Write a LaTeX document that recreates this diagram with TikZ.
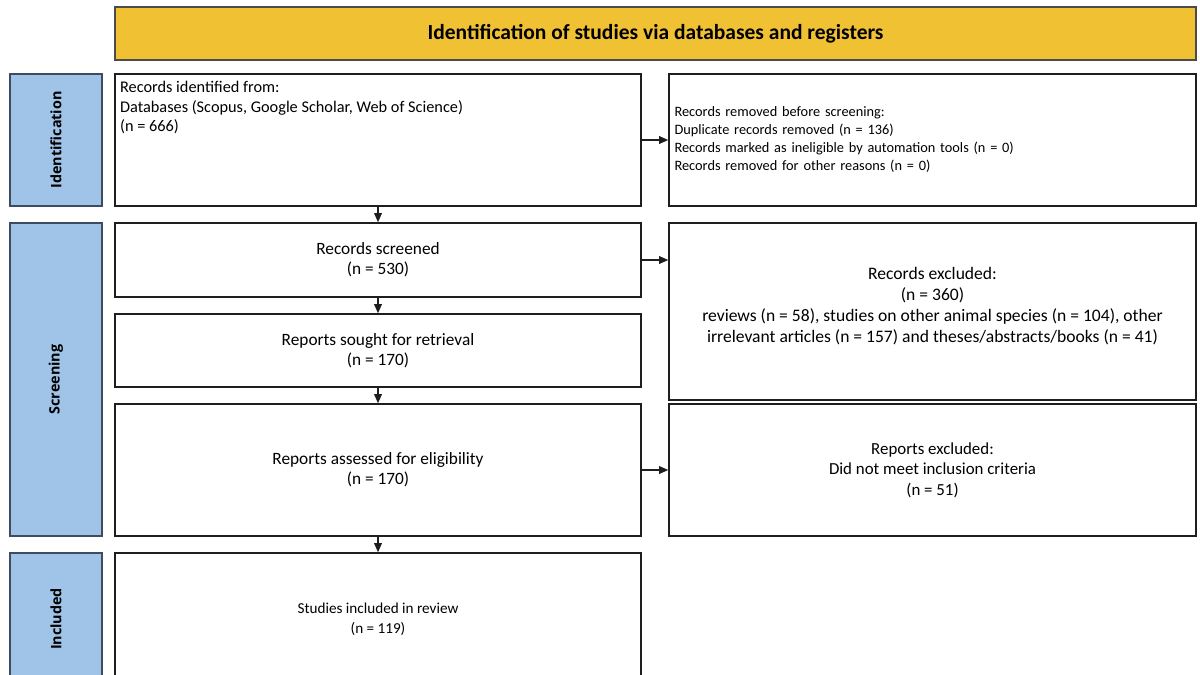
\documentclass[tikz,border=0pt]{standalone}
\usepackage{fontspec}
\setmainfont{Carlito}
\newfontfamily\sidefont{Open Sans}
\usetikzlibrary{arrows.meta,positioning,calc}
\definecolor{gold}{RGB}{240,193,50}
\definecolor{skyblue}{RGB}{160,196,232}
\definecolor{slate}{RGB}{62,76,98}
\definecolor{ink}{RGB}{30,30,30}
\tikzset{
  >={Triangle[length=6.5pt,width=5.5pt]},
  stage/.style={draw=ink,line width=1.1pt,fill=white,minimum width=13.15cm,
    minimum height=#1,inner sep=0pt,align=center,
    font=\fontsize{12.3}{14.3}\selectfont},
  stage/.default=1.85cm,
  side/.style={draw=slate,line width=0.9pt,fill=skyblue,minimum width=2.3cm,
    minimum height=#1,inner sep=0pt},
  sidetext/.style={rotate=90,font=\sidefont\bfseries\fontsize{10.2}{12}\selectfont},
  flow/.style={->,line width=0.9pt,draw=ink},
}
\begin{document}
\begin{tikzpicture}
  \useasboundingbox (0,0) rectangle (30,-16.85);
  \clip (0,0) rectangle (30,-16.85);
  % header
  \node[draw=ink!80,line width=1.1pt,fill=gold,minimum width=27.025cm,minimum height=1.325cm,
    font=\bfseries\fontsize{15.3}{18}\selectfont] (head) at (16.3875,-0.8375)
    {Identification of studies via databases and registers};
  % phase labels
  \node[side=3.3cm] (sideid) at (1.4,-3.5) {};
  \node[sidetext] at (sideid) {Identification};
  \node[side=7.825cm] (sidesc) at (1.4,-9.4875) {};
  \node[sidetext] at (sidesc) {Screening};
  \node[side=3.3cm] (sidein) at (1.4,-15.475) {};
  \node[sidetext] at (sidein) {Included};
  % left column
  \node[stage=3.3cm] (found) at (9.45,-3.5) {};
  \node[anchor=north west,align=left,inner sep=0pt,
    font=\fontsize{11.6}{13.8}\selectfont] (foundtxt) at ($(found.north west)+(0.14,-0.2)$)
    {Records identified from:\\Databases (Scopus, Google Scholar, Web of Science)\\(n = 666)};
  \node[stage] (screened) at (9.45,-6.5) {Records screened\\(n = 530)};
  \node[stage=1.825cm] (sought) at (9.45,-8.7625) {Reports sought for retrieval\\(n = 170)};
  \node[stage=3.3cm] (assessed) at (9.45,-11.75) {Reports assessed for eligibility\\(n = 170)};
  \node[stage=3.3cm,font=\fontsize{10.8}{14.2}\selectfont] (included) at (9.45,-15.475)
    {Studies included in review\\(n = 119)};
  % right column
  \node[stage=3.3cm,minimum width=13.175cm,text width=12.9cm,align=left,
    font=\fontsize{10.2}{12.8}\selectfont] (removed) at (23.3125,-3.5)
    {Records removed before screening:\\Duplicate records removed (n = 136)\\
     Records marked as ineligible by automation tools (n = 0)\\Records removed for other reasons (n = 0)};
  \node[stage=4.425cm,minimum width=13.175cm] (excluded) at (23.3125,-7.7875) {};
  \node[align=center,inner sep=0pt,font=\fontsize{12.5}{14.9}\selectfont] (excludedtxt)
    at ($(excluded)+(0,0.13)$)
    {Records excluded:\\(n = 360)\\reviews (n = 58), studies on other animal species (n = 104), other\\
     irrelevant articles (n = 157) and theses/abstracts/books (n = 41)};
  \node[stage=3.3cm,minimum width=13.175cm,font=\fontsize{12}{14.5}\selectfont] (rejected) at (23.3125,-11.75)
    {Reports excluded:\\Did not meet inclusion criteria\\(n = 51)};
  % arrows
  \draw[flow] (found.south) -- (screened.north);
  \draw[flow] (screened.south) -- (sought.north);
  \draw[flow] (sought.south) -- (assessed.north);
  \draw[flow] (assessed.south) -- (included.north);
  \draw[flow] (found.east) -- (removed.west);
  \draw[flow] (screened.east) -- (screened.east -| excluded.west);
  \draw[flow] (assessed.east) -- (rejected.west);
\end{tikzpicture}
\end{document}
